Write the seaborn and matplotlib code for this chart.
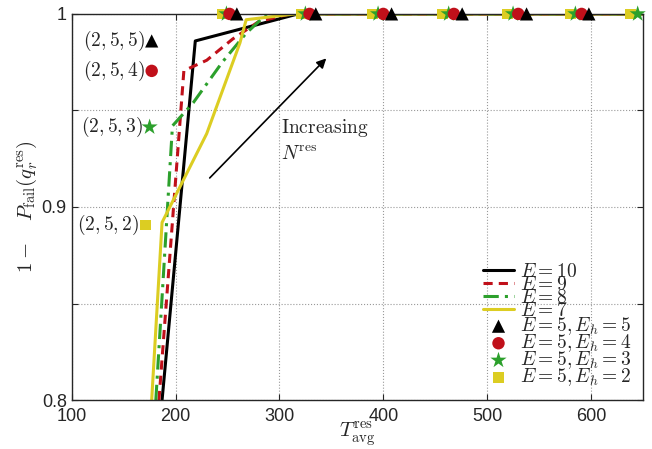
import numpy as np
import pandas as pd
import seaborn as sns
import matplotlib.pyplot as plt

# curves (E = 10, 9, 8, 7)
x_e10 = [187, 219, 318, 650]
y_e10 = [0.80, 0.986, 1.0, 1.0]
x_e9 = [184, 208, 230, 255, 280, 310, 650]
y_e9 = [0.80, 0.9706, 0.976, 0.987, 0.996, 1.0, 1.0]
x_e8 = [181, 197, 217, 245, 268, 288, 650]
y_e8 = [0.80, 0.942, 0.954, 0.975, 0.990, 1.0, 1.0]
x_e7 = [177, 187, 230, 262, 268, 315, 650]
y_e7 = [0.80, 0.892, 0.938, 0.985, 0.997, 1.0, 1.0]

# markers (E = 5, E_h = 5..2)
x_eh5 = [177, 259, 335, 408, 476, 538, 598]
y_eh5 = [0.986, 1, 1, 1, 1, 1, 1]
x_eh4 = [177, 252, 329, 400, 468, 530, 591]
y_eh4 = [0.9705, 1, 1, 1, 1, 1, 1]
x_eh3 = [175, 249, 325, 395, 463, 525, 585, 645]
y_eh3 = [0.9414, 1, 1, 1, 1, 1, 1, 1]
x_eh2 = [171, 245, 321, 390, 457, 520, 580, 638]
y_eh2 = [0.8907, 1, 1, 1, 1, 1, 1, 1]

point_labels = ['$(2,5,5)$', '$(2,5,4)$', '$(2,5,3)$', '$(2,5,2)$']

black = 'black'
red = '#c0101a'
green = '#2ca02c'
yellow = '#dccd22'

sns.set_style('ticks')
plt.rcParams['font.family'] = ['Liberation Sans', 'DejaVu Sans']
plt.rcParams['mathtext.fontset'] = 'cm'

fig = plt.figure(figsize=(6.52, 4.49), dpi=100)
ax = fig.add_axes([0.110, 0.109, 0.876, 0.860])

lines = [
    (x_e10, y_e10, black, '-', '$E=10$'),
    (x_e9, y_e9, red, (0, (3, 2)), '$E=9$'),
    (x_e8, y_e8, green, (0, (5, 2, 1, 2)), '$E=8$'),
    (x_e7, y_e7, yellow, '-', '$E=7$'),
]
for xs, ys, col, ls, lab in lines:
    df = pd.DataFrame({'x': xs, 'y': ys})
    sns.lineplot(data=df, x='x', y='y', color=col, linestyle=ls, lw=2.2,
                 estimator=None, sort=False, label=lab, ax=ax)

marks = [
    (x_eh5, y_eh5, black, '^', 90, '$E=5, E_h=5$'),
    (x_eh4, y_eh4, red, 'o', 80, '$E=5, E_h=4$'),
    (x_eh3, y_eh3, green, '*', 150, '$E=5, E_h=3$'),
    (x_eh2, y_eh2, yellow, 's', 60, '$E=5, E_h=2$'),
]
for xs, ys, col, mk, sz, lab in marks[::-1]:
    df = pd.DataFrame({'x': xs, 'y': ys})
    sns.scatterplot(data=df, x='x', y='y', color=col, marker=mk, s=sz,
                    edgecolor='none', label=lab, ax=ax, clip_on=False, zorder=5)

# labels next to the first marker points
for (xs, ys, col, mk, sz, lab), txt in zip(marks, point_labels):
    ax.text(xs[0] - 6, ys[0], txt, ha='right', va='center', fontsize=14)

ax.annotate('', xy=(347, 0.978), xytext=(231, 0.914),
            arrowprops=dict(arrowstyle='-|>', color='black', lw=1.2,
                            mutation_scale=14))
ax.text(302, 0.941, '$\\rm Increasing$', fontsize=14, ha='left', va='center')
ax.text(302, 0.9275, '$N^{\\rm res}$', fontsize=14, ha='left', va='center')

ax.set_xlim(100, 650)
ax.set_ylim(0.8, 1.0)
ax.set_xticks([100, 200, 300, 400, 500, 600])
ax.set_yticks([0.8, 0.85, 0.9, 0.95, 1.0])
ax.set_yticklabels(['0.8', '', '0.9', '', '1'])
ax.tick_params(direction='in', top=True, right=True, labelsize=13, length=4)
ax.tick_params(axis='x', pad=6)
ax.grid(True, linestyle=':', color='#999999', lw=0.8)
for s in ax.spines.values():
    s.set_linewidth(1.0)

ax.set_xlabel('$T^{\\rm res}_{\\rm avg}$', fontsize=15, labelpad=-3)
ax.set_ylabel('$1 - \\quad P_{\\rm fail}(q_r^{\\rm res})$', fontsize=15, labelpad=2)

handles, labels = ax.get_legend_handles_labels()
order = [0, 1, 2, 3, 7, 6, 5, 4]
ax.legend([handles[i] for i in order], [labels[i] for i in order],
          loc='lower right', bbox_to_anchor=(1.0, 0.0), frameon=False,
          fontsize=14, labelspacing=-0.25, handlelength=1.6, handletextpad=0.3,
          borderaxespad=0.2)

fig.savefig('out.png', dpi=100)
